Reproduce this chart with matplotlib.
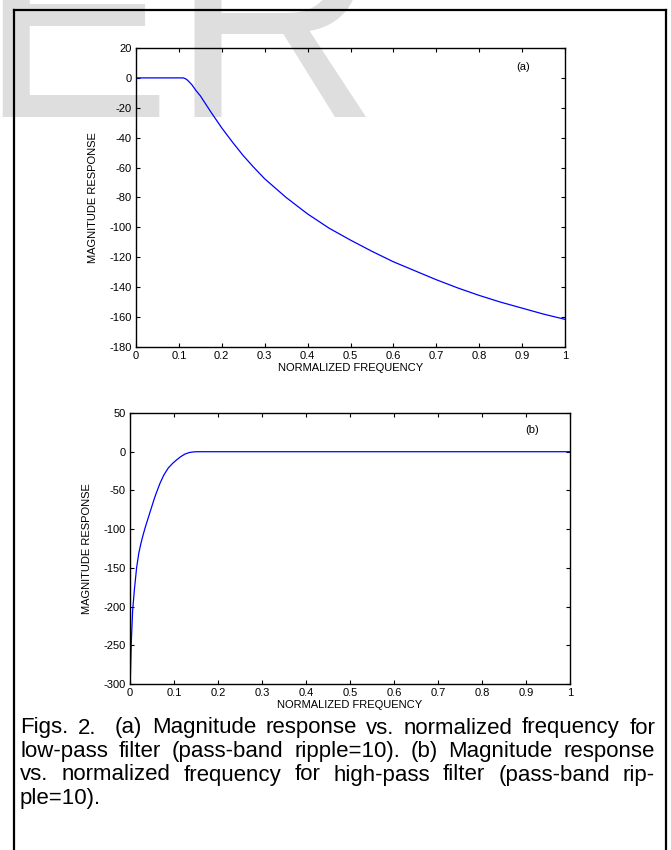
import matplotlib
matplotlib.use('Agg')
import matplotlib.pyplot as plt
from matplotlib import font_manager
from matplotlib.lines import Line2D

# values
lp_freq = [0.0, 0.05, 0.11, 0.115, 0.12, 0.13, 0.14, 0.15, 0.175, 0.2, 0.225,
           0.25, 0.275, 0.3, 0.35, 0.4, 0.45, 0.5, 0.55, 0.6, 0.65, 0.7,
           0.75, 0.8, 0.85, 0.9, 0.95, 1.0]
lp_mag = [0, 0, 0, -0.5, -1.5, -4.5, -8.5, -12, -23, -33.5, -43,
          -52, -60, -67.5, -80, -91, -100.5, -108.5, -116, -123, -129, -135,
          -140.5, -145.5, -150, -154, -158, -161.5]

hp_freq = [0.001, 0.003, 0.006, 0.01, 0.015, 0.02, 0.025, 0.03, 0.035, 0.04,
           0.045, 0.05, 0.055, 0.06, 0.068, 0.077, 0.087, 0.097, 0.106, 0.115,
           0.125, 0.135, 0.145, 0.155, 0.4, 0.7, 1.0]
hp_mag = [-288, -245, -205, -178, -150, -131, -118, -107, -97, -88,
          -79, -70, -61, -53, -41, -30, -21, -15, -10.5, -6.5,
          -3, -1, -0.2, 0, 0, 0, 0]

xticks = [0, 0.1, 0.2, 0.3, 0.4, 0.5, 0.6, 0.7, 0.8, 0.9, 1]
xticklabels = ['0', '0.1', '0.2', '0.3', '0.4', '0.5', '0.6', '0.7', '0.8', '0.9', '1']
yticks_a = list(range(-180, 21, 20))
yticks_b = list(range(-300, 51, 50))

caption = ["Figs. 2.  (a) Magnitude response vs. normalized frequency for",
           "low-pass filter (pass-band ripple=10). (b) Magnitude response",
           "vs. normalized frequency for high-pass filter (pass-band rip-",
           "ple=10)."]

W, H = 671, 850
fig = plt.figure(figsize=(W / 100, H / 100), dpi=100)
fig.patch.set_facecolor('white')

names = {f.name for f in font_manager.fontManager.ttflist}
sans = 'Liberation Sans' if 'Liberation Sans' in names else 'DejaVu Sans'
plt.rcParams['font.family'] = [sans, 'DejaVu Sans']
plt.rcParams['axes.unicode_minus'] = False

# faint watermark, only its lower half is on the page
fig.text(-22 / W, 1 - 117 / H, 'ER', fontsize=208, color='#dedede',
         ha='left', va='baseline', zorder=-5)

# page frame
lw = 1.6
fig.add_artist(Line2D([14 / W, 14 / W], [1 - 10 / H, -0.01], color='black', lw=lw,
                      transform=fig.transFigure))
fig.add_artist(Line2D([666 / W, 666 / W], [1 - 10 / H, -0.01], color='black', lw=lw,
                      transform=fig.transFigure))
fig.add_artist(Line2D([14 / W, 666 / W], [1 - 10 / H, 1 - 10 / H], color='black', lw=lw,
                      transform=fig.transFigure))


def style(ax, yticks, ylim):
    ax.set_facecolor('none')
    ax.set_xlim(0, 1)
    ax.set_ylim(*ylim)
    ax.set_xticks(xticks)
    ax.set_xticklabels(xticklabels)
    ax.set_yticks(yticks)
    ax.tick_params(direction='in', top=True, right=True, length=3, width=0.8,
                   labelsize=8, pad=3)
    for s in ax.spines.values():
        s.set_linewidth(1.0)
    ax.set_xlabel('NORMALIZED FREQUENCY', fontsize=8, labelpad=1)
    ax.set_ylabel('MAGNITUDE RESPONSE', fontsize=8, labelpad=8)


ax1 = fig.add_axes([136 / W, 1 - 347 / H, 429 / W, 299 / H])
ax1.plot(lp_freq, lp_mag, color='#0000ff', lw=0.9)
style(ax1, yticks_a, (-180, 20))
ax1.text(0.902, 0.936, '(a)', transform=ax1.transAxes, fontsize=8, ha='center', va='center')

ax2 = fig.add_axes([130 / W, 1 - 684 / H, 440 / W, 271 / H])
ax2.plot(hp_freq, hp_mag, color='#0000ff', lw=0.9)
style(ax2, yticks_b, (-300, 50))
ax2.text(0.914, 0.937, '(b)', transform=ax2.transAxes, fontsize=8, ha='center', va='center')

# justified caption, an empty token keeps the double space after "2."
renderer = fig.canvas.get_renderer()
left, right = 20, 655
top = 728
spacing = 23.5
for i, line in enumerate(caption):
    words = line.split(' ')
    y = 1 - (top + i * spacing) / H
    texts = [fig.text(0, y, w, fontsize=16, ha='left', va='center') for w in words]
    widths = [t.get_window_extent(renderer).width if w else 0 for t, w in zip(texts, words)]
    if i < len(caption) - 1 and len(words) > 1:
        gap = (right - left - sum(widths)) / (len(words) - 1)
    else:
        gap = texts[0].get_fontsize() * 100 / 72 * 0.278
    x = left
    for t, wd in zip(texts, widths):
        t.set_x(x / W)
        x += wd + gap

fig.savefig('out.png', dpi=100)
